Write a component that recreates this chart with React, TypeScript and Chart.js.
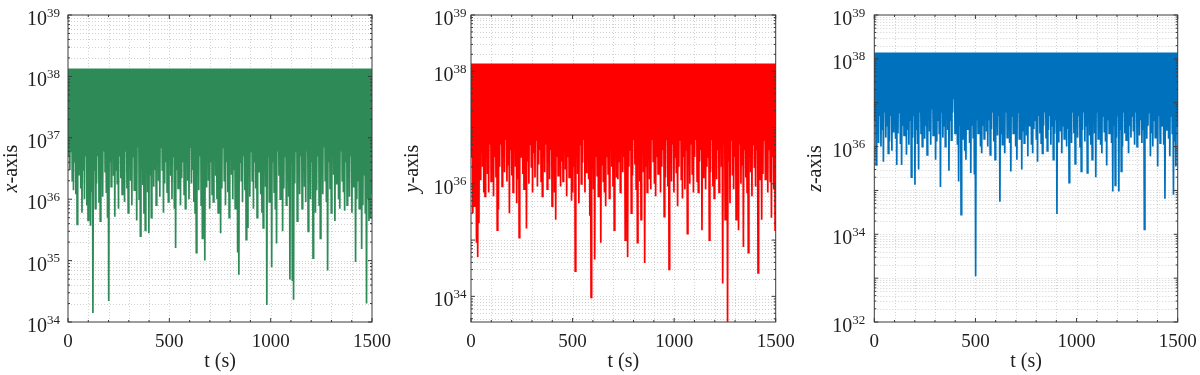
import React, { useEffect, useRef } from 'react';
import { Chart, registerables } from 'chart.js';

Chart.register(...registerables);

// ---------------- data ----------------
const SAMPLE_STEP = 6; // seconds between successive troughs
const T_END = 1500;

// upper envelope of each signal
const xTop = 1.35e38;
const yTop = 1.38e38;
const zTop = 1.39e38;

// trough values of the x-axis signal, one every SAMPLE_STEP seconds
const xLows = [
  5e36, 3e36, 6e36, 2e36, 1.4e36, 4e36, 1.2e36, 3.9e35, 2.5e36, 7e36,
  1.5e36, 6e35, 3e36, 1e36, 5e36, 8e35, 4.5e35, 2e36, 3.7e35, 1.3e36,
  1.4e34, 3e36, 7e35, 1.8e36, 5e36, 9e35, 4.4e35, 2.2e36, 1.1e36, 6e36,
  2.8e36, 1.3e36, 5e35, 2.2e34, 4e36, 1.6e36, 7e36, 2.4e36, 5.2e35, 3e36,
  1.8e36, 7e35, 5e36, 2.2e36, 1.2e36, 4e36, 9e35, 6e36, 1.5e36, 6e35,
  3.5e36, 2e36, 8e35, 5e36, 1.4e36, 2.6e36, 4.5e35, 7e36, 1e36, 2.5e35,
  3e36, 1.7e36, 6e35, 3.1e35, 4e36, 1.3e36, 2.8e35, 2.5e36, 5e35, 6e36,
  1.6e36, 3e36, 8e35, 5e36, 2e36, 1.1e36, 7e36, 3e36, 6e35, 1.8e36,
  4e36, 1.3e36, 9e35, 6e36, 2.4e36, 1e36, 5e36, 7e35, 1.6e35, 3e36,
  1.5e36, 6e36, 8e35, 2.2e36, 4e36, 1.2e36, 7e35, 5e36, 2e36, 1e36,
  7e36, 1.8e36, 3e36, 9e35, 6e35, 1.35e35, 2.5e36, 1.4e36, 5e36, 8e35,
  2.3e35, 3e36, 1e35, 1.6e36, 6e36, 2e36, 7e35, 4e36, 1.2e36, 9e35,
  5e36, 2.4e36, 1e36, 6e35, 3e36, 2.8e35, 1.5e36, 7e36, 2e36, 8e35,
  4e36, 1.3e36, 5e35, 6e36, 2.5e36, 1e36, 3e36, 7e35, 1.8e36, 1.35e35,
  5.9e34, 4e36, 2e36, 9e35, 5e36, 1.4e36, 2.2e35, 3.5e35, 3e36, 1.1e36,
  6e36, 2e36, 7e35, 4e36, 1.5e36, 5e35, 2.8e36, 8e36, 1.2e36, 6e35,
  3.4e35, 3e36, 1.6e36, 1.9e34, 5e36, 9e35, 2.2e36, 7.8e34, 4e36, 1.3e36,
  7e35, 1.9e35, 6e36, 2.4e36, 1e36, 3e36, 3e35, 1.5e36, 5e36, 8e35,
  2e36, 1.1e36, 4.9e34, 4e36, 4.8e34, 2.3e34, 1.8e36, 6e36, 4.4e35, 2.5e36,
  1.2e36, 5e36, 7e35, 3e36, 1.6e36, 9e35, 6e36, 3e35, 2e36, 1e36,
  4e36, 1.1e35, 2.6e36, 6e35, 1.4e36, 5e36, 8e35, 2.3e35, 3e36, 1.2e36,
  7e36, 2e36, 9e35, 6.9e34, 4e36, 1.5e36, 6e35, 5e36, 2.5e36, 4.4e35,
  1.8e36, 3e36, 1e36, 7e35, 6e36, 2e36, 1.3e36, 6.5e35, 4e36, 8e35,
  2.4e36, 1.1e36, 5e36, 6e35, 1.6e36, 3e36, 9.5e34, 1e36, 2e36, 7e35,
  1.4e36, 1.55e35, 8e35, 2.5e36, 6e35, 2e34, 1e36, 4.4e35, 5e35, 1.2e36,
];

// trough values of the y-axis signal
const yLows = [
  3e36, 3e35, 4e35, 1e36, 9e34, 5e34, 2e35, 1.2e36, 4e36, 2e36,
  7e35, 6e35, 3e36, 1.5e36, 7e35, 5e36, 1.1e36, 2.5e36, 6e35, 3e36,
  1.3e36, 1.5e35, 3.5e35, 2e36, 5e36, 9e35, 3e36, 1.6e36, 6e36, 1.1e36,
  2.2e36, 3e35, 4e36, 1.4e36, 7e35, 5e36, 2e36, 4.5e35, 1.2e36, 1.1e35,
  3e36, 6e36, 1.5e36, 8e35, 4e36, 1.6e35, 2.5e36, 1e36, 5e36, 2e36,
  7e35, 3.5e36, 1.3e36, 6e36, 9e35, 2.2e36, 4e36, 1.1e36, 6e35, 3e36,
  1.6e36, 5e36, 8e35, 2.4e36, 1.2e36, 4e36, 4e35, 2e36, 7e35, 2.3e35,
  3e36, 1.4e36, 6e36, 9e35, 2.5e36, 1.1e36, 5e36, 1.8e36, 6e35, 3e36,
  1.3e36, 4e36, 5e35, 7e35, 2e36, 2.8e34, 3e36, 1.5e36, 4.5e35, 5e36,
  1e36, 2.4e36, 6e36, 7e35, 1.6e36, 4e36, 1.2e36, 2.7e35, 9.6e33, 2e36,
  8e35, 4.5e34, 3e36, 1.4e36, 6e35, 5e36, 9e34, 2.2e36, 1.1e36, 7e35,
  4e35, 3e36, 1.5e36, 5.5e35, 6e36, 2e36, 9e35, 1.5e35, 4e36, 1.3e36,
  1.2e36, 2.5e36, 7e35, 5e36, 1.6e36, 3e36, 1e35, 6e35, 5e34, 2e36,
  4e36, 3e35, 1.4e36, 6e36, 2.2e36, 8e35, 9e34, 3e36, 1.1e36, 2.3e35,
  5e36, 1.6e36, 3.9e34, 2e36, 7e35, 4e36, 1.2e36, 8e35, 6e36, 2.5e36,
  1e36, 6e35, 3e36, 1.5e36, 5e36, 7e35, 2e36, 4e36, 2.6e35, 1.3e36,
  6e36, 9e35, 3e34, 2.4e36, 1.1e36, 5e36, 7e35, 3e36, 1.6e36, 4e35,
  2e36, 6e36, 1.2e36, 5.5e35, 3e36, 8e35, 4e36, 1.3e35, 2.2e36, 1e36,
  5e36, 1.5e36, 7e35, 3e36, 6e36, 1.1e36, 7e35, 2.5e36, 4e36, 1.5e35,
  1.3e36, 5e36, 8e35, 2e36, 3e36, 1e35, 1.6e36, 6e36, 9e35, 5.5e35,
  3e36, 1.2e36, 4e36, 7e35, 1.5e37, 2e36, 1.7e34, 5e36, 2.3e35, 1.1e36,
  3.5e33, 2.5e36, 4.5e35, 6e36, 1.4e36, 8e35, 3e36, 2.3e35, 2e36, 1.5e35,
  5e36, 1e36, 2.2e36, 7.5e34, 4e36, 1.3e36, 7e35, 6e34, 3e36, 1.6e36,
  6e35, 5e36, 2e36, 9e35, 4e36, 2.6e34, 1.2e36, 3e36, 2.3e35, 1.5e36,
  6e36, 1.2e36, 2e36, 7e35, 4e36, 1.1e36, 2.5e35, 3e36, 8e35, 1.5e35,
];

// trough values of the z-axis signal
const zLows = [
  4e36, 3.8e35, 2e36, 1.2e36, 5e36, 1e36, 2.5e36, 4.5e35, 6e36, 1.6e36,
  3e36, 7e35, 1.3e36, 5e36, 8e35, 2.2e36, 4e36, 1.5e36, 3.8e35, 2e36,
  6e36, 1.2e36, 3.8e35, 3e36, 1.8e36, 5e36, 6.5e35, 2.4e36, 1.1e36, 4e36,
  2e35, 1.6e36, 5e36, 1.35e35, 2.5e36, 1.2e36, 3e35, 6e36, 2e36, 1e36,
  4e36, 1.5e36, 3e36, 6.5e35, 5e36, 2.2e36, 1.1e36, 7e36, 1.8e36, 3e36,
  5e35, 1.3e36, 4e36, 2e36, 1.2e35, 6e36, 1.6e36, 3e36, 1e36, 5e36,
  2.4e36, 2.8e35, 4e36, 1.4e36, 6e36, 1.2e37, 2e36, 5e36, 1.1e36, 1.6e35,
  3e36, 2.8e34, 1.5e36, 5e36, 8e35, 5e35, 2.5e36, 6e36, 1.2e36, 2.5e35,
  3e36, 1.6e36, 2.3e35, 1.1e33, 4e36, 2e36, 6e36, 1e36, 7e35, 3e36,
  1.5e36, 5e36, 2.2e36, 1e36, 4e36, 6.5e35, 2.5e36, 6e36, 1.3e36, 5e35,
  3e36, 1.8e36, 5e36, 5.5e34, 2e36, 1.1e36, 4e36, 7e35, 6e36, 1.6e36,
  2.5e36, 1.2e36, 2.7e35, 5e36, 2e36, 3e36, 1e36, 5e35, 6e36, 1.5e36,
  4e36, 3e35, 2.2e36, 1.2e36, 5e36, 1.8e36, 6e35, 3e36, 6e36, 1.1e36,
  7e35, 2.5e36, 4e36, 1.5e36, 4.5e35, 5e36, 2e36, 1.2e36, 7e35, 3e36,
  6e36, 1.6e36, 8e35, 2.4e36, 5e36, 1.1e36, 3e36, 5e35, 2e36, 4e36,
  2.9e34, 1.3e36, 6e36, 2.2e36, 7e35, 3e36, 1.5e36, 5e36, 1e36, 2.5e36,
  1.5e35, 4e36, 1.2e36, 6e36, 2e36, 4e35, 3e36, 1.6e36, 5e36, 1e36,
  2.7e35, 2.4e36, 6e36, 1.3e36, 3e36, 2.5e35, 5e36, 1.8e36, 1.1e36, 5e35,
  4e36, 2e36, 2e35, 6e36, 1.5e36, 3e36, 1.1e36, 7e35, 5e36, 2.2e36,
  1.3e36, 3.7e35, 4e36, 2e36, 6e36, 1.2e36, 9.5e34, 3e36, 1.3e35, 1.6e36,
  5e36, 9.5e34, 2.5e36, 2.7e35, 1e36, 6e36, 2e36, 1.4e36, 4e36, 7e35,
  3e36, 1.6e36, 5e36, 2.2e36, 1.1e36, 6e36, 1e36, 3e36, 1.8e36, 4e36,
  1.2e36, 2.5e36, 1.3e34, 5e36, 1.5e36, 3e36, 6e36, 6e35, 2e36, 1e36,
  4e36, 1.6e36, 2.5e36, 3.5e35, 5e36, 1.2e36, 3e36, 6e36, 1.1e36, 6.5e34,
  2.4e36, 4e36, 1.5e36, 6e35, 5e36, 2e36, 8e34, 1.3e36, 3.5e35, 3e36,
];

// axis ticks / labels
const xTickValues = [0, 500, 1000, 1500];
const xTickLabels = ['0', '500', '1000', '1500'];
const xMinorStep = 100;
const xLabelExps = [39, 38, 37, 36, 35, 34];
const yLabelExps = [39, 38, 36, 34];
const zLabelExps = [39, 38, 36, 34, 32];

// ---------------- styling / layout ----------------
const FONT = '"Liberation Serif", "DejaVu Serif", serif';
const TEXT = '#1f1f1f';
const GRID = '#d2d2d2';
const BOX = '#3a3a3a';

type PanelCfg = {
  letter: string;
  lows: number[];
  top: number;
  color: string;
  yMin: number;
  yMax: number;
  labelExps: number[];
  left: number;
  yWidth: number;
  padRight: number;
  labelGap: number;
  titleX: number;
};

const panels: PanelCfg[] = [
  { letter: 'x', lows: xLows, top: xTop, color: '#2E8B57', yMin: 1e34, yMax: 1e39, labelExps: xLabelExps, left: 0, yWidth: 68, padRight: 28, labelGap: 8, titleX: 17 },
  { letter: 'y', lows: yLows, top: yTop, color: '#FF0000', yMin: 3.5e33, yMax: 1e39, labelExps: yLabelExps, left: 400, yWidth: 71, padRight: 24.3, labelGap: 4.5, titleX: 18 },
  { letter: 'z', lows: zLows, top: zTop, color: '#0072BD', yMin: 1e32, yMax: 1e39, labelExps: zLabelExps, left: 800, yWidth: 74.3, padRight: 22.3, labelGap: 9, titleX: 21 },
];

function buildSeries(lows: number[], top: number) {
  const pts: { x: number; y: number }[] = [];
  lows.forEach((v, i) => {
    pts.push({ x: i * SAMPLE_STEP, y: top });
    pts.push({ x: i * SAMPLE_STEP + SAMPLE_STEP / 2, y: v });
  });
  pts.push({ x: T_END, y: top });
  return pts;
}

function logGridValues(min: number, max: number) {
  const out: { v: number; major: boolean }[] = [];
  const d0 = Math.floor(Math.log10(min));
  const d1 = Math.ceil(Math.log10(max));
  for (let d = d0; d <= d1; d++) {
    for (let m = 1; m <= 9; m++) {
      const v = m * Math.pow(10, d);
      if (v >= min * 0.999 && v <= max * 1.001) out.push({ v, major: m === 1 });
    }
  }
  return out;
}

function makeDecor(cfg: PanelCfg) {
  return {
    id: 'decor' + cfg.letter,
    beforeDatasetsDraw(chart: any) {
      const { ctx, chartArea: a } = chart;
      const xs = chart.scales.x;
      const ys = chart.scales.y;
      ctx.save();
      ctx.strokeStyle = GRID;
      ctx.lineWidth = 1;
      ctx.setLineDash([1, 2]);
      for (let t = xMinorStep; t < T_END; t += xMinorStep) {
        const px = Math.round(xs.getPixelForValue(t)) + 0.5;
        ctx.beginPath();
        ctx.moveTo(px, a.top);
        ctx.lineTo(px, a.bottom);
        ctx.stroke();
      }
      for (const g of logGridValues(cfg.yMin, cfg.yMax)) {
        const py = Math.round(ys.getPixelForValue(g.v)) + 0.5;
        if (py <= a.top + 1 || py >= a.bottom - 1) continue;
        ctx.beginPath();
        ctx.moveTo(a.left, py);
        ctx.lineTo(a.right, py);
        ctx.stroke();
      }
      ctx.restore();
    },
    afterDatasetsDraw(chart: any) {
      const { ctx, chartArea: a } = chart;
      const xs = chart.scales.x;
      const ys = chart.scales.y;
      ctx.save();
      // box
      ctx.strokeStyle = BOX;
      ctx.lineWidth = 1;
      ctx.setLineDash([]);
      ctx.strokeRect(a.left, a.top, a.right - a.left, a.bottom - a.top);
      // x ticks
      ctx.beginPath();
      for (let t = 0; t <= T_END; t += xMinorStep) {
        const px = xs.getPixelForValue(t);
        const len = xTickValues.includes(t) ? 4 : 2;
        ctx.moveTo(px, a.bottom);
        ctx.lineTo(px, a.bottom - len);
        ctx.moveTo(px, a.top);
        ctx.lineTo(px, a.top + len);
      }
      // y ticks
      for (const g of logGridValues(cfg.yMin, cfg.yMax)) {
        const py = ys.getPixelForValue(g.v);
        const len = g.major ? 4 : 2;
        ctx.moveTo(a.left, py);
        ctx.lineTo(a.left + len, py);
        ctx.moveTo(a.right, py);
        ctx.lineTo(a.right - len, py);
      }
      ctx.stroke();

      ctx.fillStyle = TEXT;
      // x tick labels
      ctx.font = '19px ' + FONT;
      ctx.textAlign = 'center';
      ctx.textBaseline = 'alphabetic';
      xTickValues.forEach((v, i) => {
        ctx.fillText(xTickLabels[i], xs.getPixelForValue(v), 347);
      });
      // y tick labels 10^n
      ctx.textAlign = 'right';
      for (const e of cfg.labelExps) {
        const py = ys.getPixelForValue(Math.pow(10, e));
        const rx = a.left - cfg.labelGap;
        ctx.font = '13px ' + FONT;
        const ew = ctx.measureText(String(e)).width;
        ctx.fillText(String(e), rx, py + 1.5);
        ctx.font = '20px ' + FONT;
        ctx.fillText('10', rx - ew, py + 10);
      }
      // x title
      ctx.textAlign = 'center';
      ctx.font = '20px ' + FONT;
      ctx.fillText('t (s)', (a.left + a.right) / 2, 367);
      // y title (rotated)
      ctx.translate(cfg.titleX, (a.top + a.bottom) / 2);
      ctx.rotate(-Math.PI / 2);
      ctx.textAlign = 'left';
      ctx.font = 'italic 20px ' + FONT;
      const w1 = ctx.measureText(cfg.letter).width;
      ctx.font = '20px ' + FONT;
      const rest = '-axis';
      const w2 = ctx.measureText(rest).width;
      const start = -(w1 + w2) / 2;
      ctx.font = 'italic 20px ' + FONT;
      ctx.fillText(cfg.letter, start, 0);
      ctx.font = '20px ' + FONT;
      ctx.fillText(rest, start + w1, 0);
      ctx.restore();
    },
  };
}

function Panel({ cfg }: { cfg: PanelCfg }) {
  const ref = useRef<HTMLCanvasElement>(null);
  useEffect(() => {
    const canvas = ref.current;
    if (!canvas) return;
    const chart = new Chart(canvas, {
      type: 'line',
      data: {
        datasets: [
          {
            data: buildSeries(cfg.lows, cfg.top),
            borderColor: cfg.color,
            backgroundColor: cfg.color,
            borderWidth: 1.7,
            pointRadius: 0,
            fill: false,
            tension: 0,
          },
        ],
      },
      options: {
        animation: false,
        responsive: false,
        devicePixelRatio: 1,
        events: [],
        layout: { padding: { top: 15, right: cfg.padRight, bottom: 0, left: 0 } },
        plugins: { legend: { display: false }, tooltip: { enabled: false } },
        scales: {
          x: {
            type: 'linear',
            min: 0,
            max: T_END,
            ticks: { display: false },
            grid: { display: false },
            border: { display: false },
            afterFit: (s: any) => {
              s.height = 53;
            },
          },
          y: {
            type: 'logarithmic',
            min: cfg.yMin,
            max: cfg.yMax,
            ticks: { display: false },
            grid: { display: false },
            border: { display: false },
            afterFit: (s: any) => {
              s.width = cfg.yWidth;
            },
          },
        },
      },
      plugins: [makeDecor(cfg)],
    } as any);
    return () => chart.destroy();
  }, [cfg]);
  return (
    <canvas
      ref={ref}
      width={400}
      height={375}
      style={{ position: 'absolute', left: cfg.left, top: 0, width: 400, height: 375 }}
    />
  );
}

export default function App() {
  return (
    <div style={{ position: 'absolute', left: 0, top: 0, width: 1200, height: 375, background: '#fff' }}>
      {panels.map((p) => (
        <Panel key={p.letter} cfg={p} />
      ))}
    </div>
  );
}
